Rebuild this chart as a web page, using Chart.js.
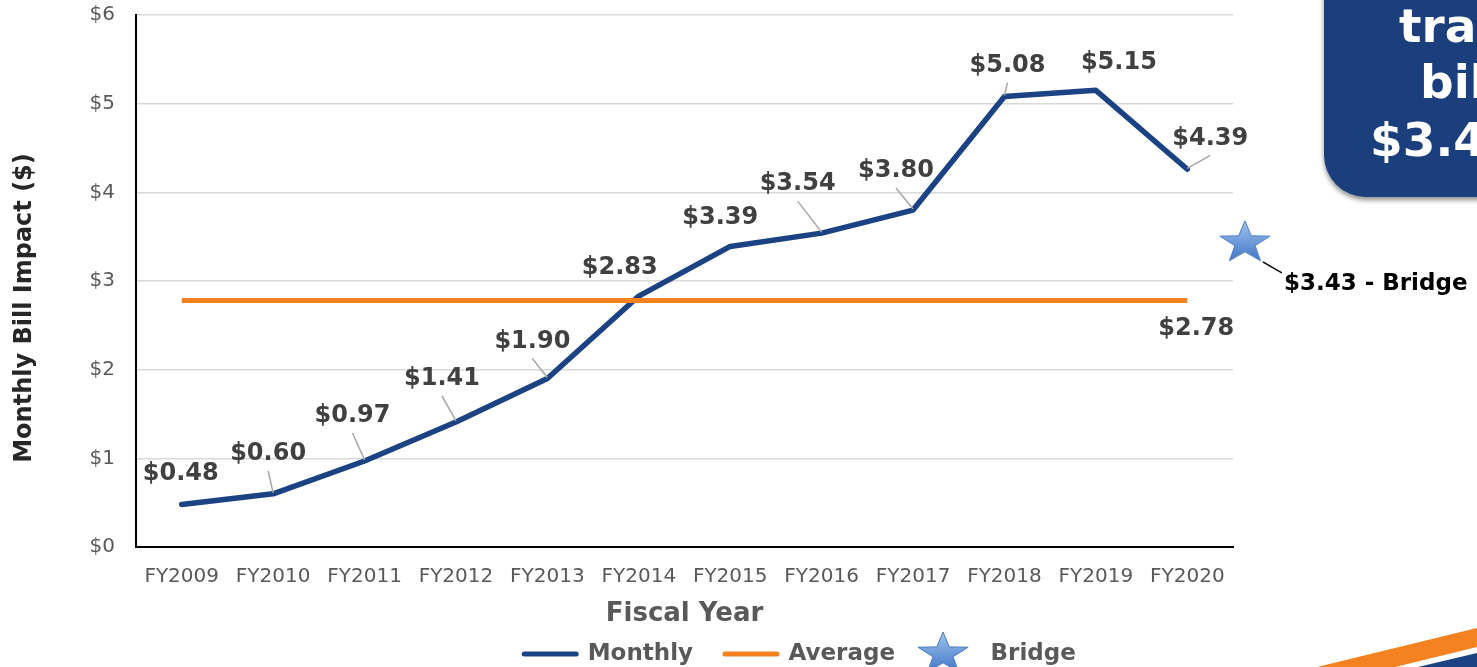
<!DOCTYPE html>
<html>
<head>
<meta charset="utf-8">
<script src="https://cdn.jsdelivr.net/npm/chart.js@4/dist/chart.umd.min.js"></script>
<style>
html,body{margin:0;padding:0;background:#fff;overflow:hidden;width:1477px;height:667px;}
#wrap{position:relative;width:1477px;height:667px;overflow:hidden;}
#c{position:absolute;left:0;top:0;}
#callout{position:absolute;left:1324px;top:-60px;width:280px;height:257px;background:#1b3f7c;border-radius:42px;box-shadow:0 3px 5px rgba(0,0,0,0.45);}
.ct{position:absolute;color:#fff;font-family:"DejaVu Sans",sans-serif;font-weight:bold;font-size:47px;line-height:47px;white-space:nowrap;}
#swoosh{position:absolute;left:0;top:0;}
</style>
</head>
<body>
<div id="wrap">
<canvas id="c" width="1477" height="667"></canvas>
<div id="callout">
  <div class="ct" style="left:75px;top:62px;">trans</div>
  <div class="ct" style="left:96px;top:118px;">bill</div>
  <div class="ct" style="left:46px;top:176px;">$3.43</div>
</div>
<svg id="swoosh" width="1477" height="667">
  <polygon points="1317,667 1477,628 1477,647 1395,667" fill="#f58220"/>
  <polygon points="1418,667 1477,653 1477,667" fill="#1b4282"/>
</svg>
</div>
<script>
// ---- data ----
const categories = ['FY2009','FY2010','FY2011','FY2012','FY2013','FY2014','FY2015','FY2016','FY2017','FY2018','FY2019','FY2020'];
const monthlyValues = [0.48, 0.60, 0.97, 1.41, 1.90, 2.83, 3.39, 3.54, 3.80, 5.08, 5.15, 4.26];
const monthlyLabels = ['$0.48','$0.60','$0.97','$1.41','$1.90','$2.83','$3.39','$3.54','$3.80','$5.08','$5.15','$4.39'];
const averageValues = [2.78, 2.78, 2.78, 2.78, 2.78, 2.78, 2.78, 2.78, 2.78, 2.78, 2.78, 2.78];
const averageLabel = '$2.78';
const bridgeValue = 3.43;
const bridgeLabel = '$3.43 - Bridge';
const yTicks = [0, 1, 2, 3, 4, 5, 6];
const seriesNames = ['Monthly', 'Average', 'Bridge'];
const yTitle = 'Monthly Bill Impact ($)';
const xTitle = 'Fiscal Year';

// ---- layout / style ----
const FONT = '"DejaVu Sans", Verdana, sans-serif';
const BLUE = '#1b4282';
const ORANGE = '#f5821f';
const bridgeOffset = 0.63; // star placed this far past the last category
// label centre offsets from point [dx, dy, leader]
const labelOffsets = [[-1,-31,false],[-5,-40,true],[-12,-45,true],[-14,-43,true],[-15,-37,true],[-19,-28,false],
  [-10,-29,false],[-24,-49,true],[-17,-39,true],[3,-31,true],[23,-28,false],[23,-31,true]];

function makeStar(w, cx){
  const c = document.createElement('canvas'); c.width = w; c.height = 48;
  const g = c.getContext('2d');
  const cy = 24, R = 22, r = 8.8, sx = 1.2;
  g.beginPath();
  for (let k = 0; k < 10; k++) {
    const ang = -Math.PI/2 + k*Math.PI/5;
    const rad = (k % 2) ? r : R;
    const px = cx + Math.cos(ang)*rad*sx, py = cy + Math.sin(ang)*rad;
    if (k) g.lineTo(px, py); else g.moveTo(px, py);
  }
  g.closePath();
  const grd = g.createLinearGradient(0, cy-R, 0, cy+R);
  grd.addColorStop(0, '#a3c4ee'); grd.addColorStop(0.5, '#6c9ad9'); grd.addColorStop(1, '#3b6fc2');
  g.fillStyle = grd; g.fill();
  g.strokeStyle = '#4676bd'; g.lineWidth = 1; g.stroke();
  return c;
}
const starImg = makeStar(58, 29);
const legendStarImg = makeStar(78, 29);   // star drawn left of the image centre

const labelPlugin = {
  id: 'valueLabels',
  afterDatasetsDraw(chart) {
    const ctx = chart.ctx;
    ctx.save();
    ctx.font = 'bold 24px ' + FONT;
    ctx.textAlign = 'center';
    ctx.textBaseline = 'middle';
    const m = chart.getDatasetMeta(0);
    m.data.forEach((pt, i) => {
      const [dx, dy, leader] = labelOffsets[i];
      const lx = pt.x + dx, ly = pt.y + dy;
      if (leader) {
        ctx.strokeStyle = '#a6a6a6'; ctx.lineWidth = 1.5;
        ctx.beginPath(); ctx.moveTo(lx, ly + 17); ctx.lineTo(pt.x, pt.y - 1); ctx.stroke();
      }
      ctx.fillStyle = '#404040';
      ctx.fillText(monthlyLabels[i], lx, ly);
    });
    const a = chart.getDatasetMeta(1).data;
    const last = a[a.length - 1];
    ctx.fillStyle = '#404040';
    ctx.fillText(averageLabel, last.x + 9, last.y + 28);
    const b = chart.getDatasetMeta(2).data[0];
    ctx.strokeStyle = '#000'; ctx.lineWidth = 1.5;
    ctx.beginPath(); ctx.moveTo(b.x + 18, b.y + 19); ctx.lineTo(b.x + 37, b.y + 30); ctx.stroke();
    ctx.fillStyle = '#000';
    ctx.textAlign = 'left';
    ctx.font = 'bold 23px ' + FONT;
    ctx.fillText(bridgeLabel, b.x + 39, b.y + 41);
    // y axis title
    ctx.save();
    ctx.translate(25, 308);
    ctx.rotate(-Math.PI / 2);
    ctx.textAlign = 'center';
    ctx.fillStyle = '#262626';
    ctx.font = 'bold 24px ' + FONT;
    ctx.fillText(yTitle, 0, 0);
    ctx.restore();
    ctx.restore();
  }
};

const legendShift = {
  id: 'legendShift',
  afterLayout(chart) {
    const lg = chart.legend; if (!lg) return;
    const dx = 800 - (lg.left + lg.right) / 2;
    lg.left += dx; lg.right += dx;
    const P = lg.options.labels.padding;
    const dy = 654 - (lg.top + P + 11.5);
    lg.top += dy; lg.bottom += dy;
  }
};

const LEGEND_PAD = 32;

const ctx = document.getElementById('c').getContext('2d');
new Chart(ctx, {
  type: 'line',
  data: {
    datasets: [
      { label: seriesNames[0], data: monthlyValues.map((v, i) => ({x: i, y: v})), borderColor: BLUE, backgroundColor: BLUE,
        borderWidth: 5.5, pointRadius: 0, borderJoinStyle: 'round', borderCapStyle: 'round', tension: 0, order: 2 },
      { label: seriesNames[1], data: averageValues.map((v, i) => ({x: i, y: v})), borderColor: ORANGE, backgroundColor: ORANGE,
        borderWidth: 5, pointRadius: 0, borderCapStyle: 'butt', tension: 0, order: 1 },
      { label: seriesNames[2], data: [{x: categories.length - 1 + bridgeOffset, y: bridgeValue}], showLine: false,
        pointStyle: starImg, pointRadius: 22, clip: false, order: 0 }
    ]
  },
  options: {
    responsive: false,
    animation: false,
    devicePixelRatio: 1,
    layout: { autoPadding: false, padding: { left: 6, right: 244, top: 15, bottom: -LEGEND_PAD } },
    scales: {
      x: {
        type: 'linear', min: -0.5, max: categories.length - 0.5,
        afterBuildTicks: s => { s.ticks = categories.map((c, i) => ({value: i})); },
        afterFit: s => { s.height = 87; },
        grid: { display: false, drawTicks: false },
        border: { display: true, color: '#000', width: 2 },
        ticks: { padding: 18, color: '#595959', font: { family: FONT, size: 20 }, maxRotation: 0, autoSkip: false,
                 callback: v => categories[v] },
        title: { display: true, text: xTitle, color: '#595959', font: { family: FONT, size: 26, weight: 'bold' },
                 padding: { top: 4, bottom: 4 } }
      },
      y: {
        min: 0, max: 6,
        afterBuildTicks: s => { s.ticks = yTicks.map(v => ({value: v})); },
        afterFit: s => { s.width = 130; s.paddingTop = 0; s.paddingBottom = 0; },
        grid: { color: '#d9d9d9', lineWidth: 1.5, drawTicks: false },
        border: { display: true, color: '#000', width: 2 },
        ticks: { padding: 21, color: '#595959', font: { family: FONT, size: 20 }, callback: v => '$' + v },
        title: { display: false }
      }
    },
    plugins: {
      tooltip: { enabled: false },
      legend: {
        position: 'bottom',
        labels: {
          usePointStyle: true, pointStyleWidth: 52, padding: LEGEND_PAD,
          color: '#595959', font: { family: FONT, size: 23, weight: 'bold' },
          generateLabels: chart => chart.data.datasets.map((ds, i) => ({
            text: ds.label, datasetIndex: i, hidden: false,
            pointStyle: i === 2 ? legendStarImg : 'line',
            strokeStyle: ds.borderColor, fillStyle: ds.borderColor || '#5b9bd5',
            lineWidth: i === 2 ? 0 : 5, lineCap: 'round', fontColor: '#595959'
          }))
        }
      }
    }
  },
  plugins: [labelPlugin, legendShift]
});
</script>
</body>
</html>
